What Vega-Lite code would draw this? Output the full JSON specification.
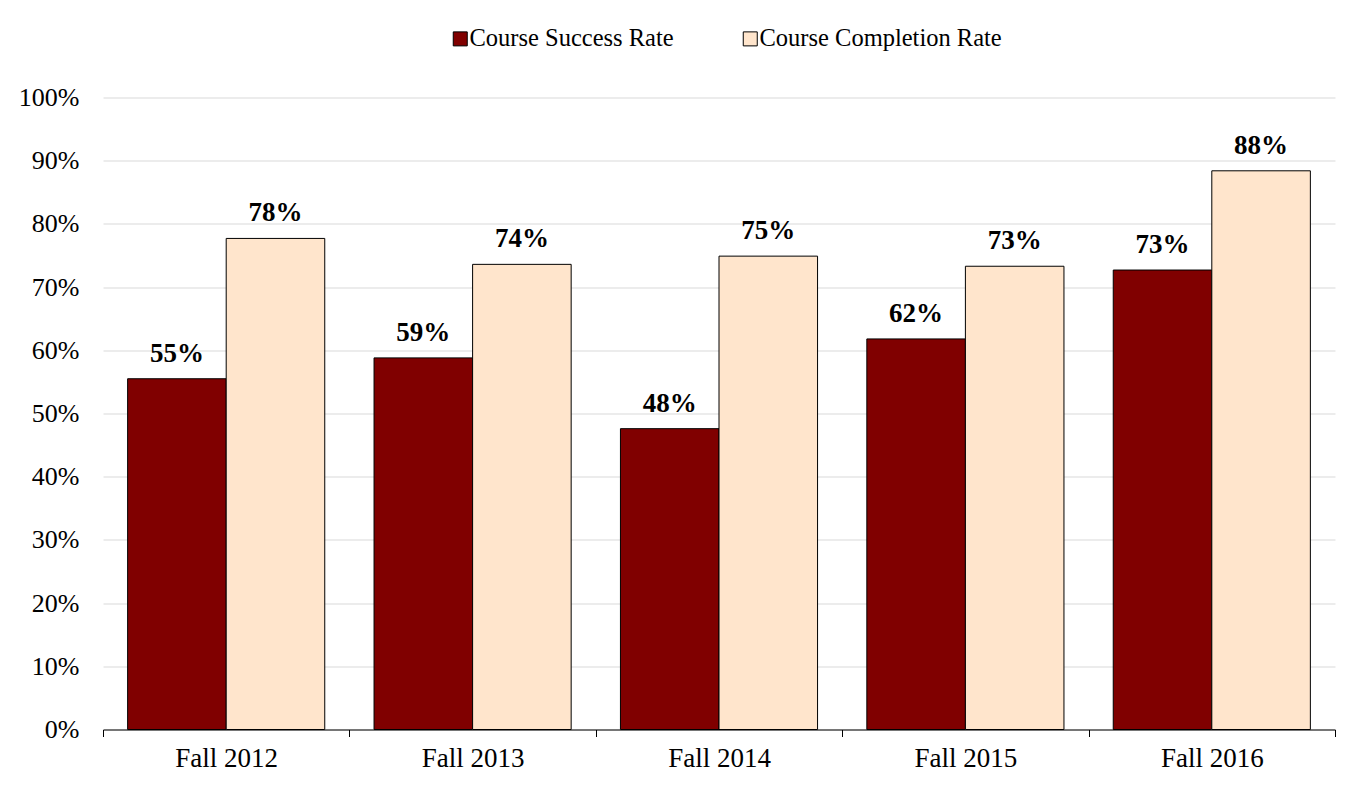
{
  "$schema": "https://vega.github.io/schema/vega-lite/v6.json",
  "width": 1232,
  "height": 632,
  "autosize": {"type": "none"},
  "padding": {"left": 103, "top": 97.5, "right": 20, "bottom": 64},
  "background": "white",
  "config": {"view": {"stroke": null}, "font": "Liberation Serif"},
  "data": {
    "values": [
      {"term": "Fall 2012", "series": "Course Success Rate", "rate": 0.555, "label": "55%"},
      {"term": "Fall 2012", "series": "Course Completion Rate", "rate": 0.777, "label": "78%"},
      {"term": "Fall 2013", "series": "Course Success Rate", "rate": 0.588, "label": "59%"},
      {"term": "Fall 2013", "series": "Course Completion Rate", "rate": 0.736, "label": "74%"},
      {"term": "Fall 2014", "series": "Course Success Rate", "rate": 0.476, "label": "48%"},
      {"term": "Fall 2014", "series": "Course Completion Rate", "rate": 0.749, "label": "75%"},
      {"term": "Fall 2015", "series": "Course Success Rate", "rate": 0.618, "label": "62%"},
      {"term": "Fall 2015", "series": "Course Completion Rate", "rate": 0.733, "label": "73%"},
      {"term": "Fall 2016", "series": "Course Success Rate", "rate": 0.727, "label": "73%"},
      {"term": "Fall 2016", "series": "Course Completion Rate", "rate": 0.884, "label": "88%"}
    ]
  },
  "encoding": {
    "x": {
      "field": "term",
      "type": "nominal",
      "sort": null,
      "scale": {"paddingInner": 0, "paddingOuter": 0},
      "axis": {
        "title": null,
        "labelAngle": 0,
        "labelFont": "Liberation Serif",
        "labelFontSize": 27,
        "labelColor": "black",
        "labelPadding": 9,
        "domainColor": "black",
        "domainWidth": 1,
        "tickColor": "black",
        "tickWidth": 1,
        "tickSize": 7,
        "tickBand": "extent",
        "grid": false
      }
    },
    "xOffset": {
      "field": "series",
      "type": "nominal",
      "sort": ["Course Success Rate", "Course Completion Rate"],
      "scale": {"paddingInner": 0, "paddingOuter": 0.25}
    },
    "y": {
      "field": "rate",
      "type": "quantitative",
      "scale": {"domain": [0, 1]},
      "axis": {
        "title": null,
        "values": [0, 0.1, 0.2, 0.3, 0.4, 0.5, 0.6, 0.7, 0.8, 0.9, 1],
        "format": ".0%",
        "domain": false,
        "ticks": false,
        "labelPadding": 24,
        "labelFont": "Liberation Serif",
        "labelFontSize": 26,
        "labelColor": "black",
        "gridColor": "#d9d9d9",
        "gridWidth": 1
      }
    }
  },
  "layer": [
    {
      "mark": {"type": "bar", "stroke": "black", "strokeWidth": 1},
      "encoding": {
        "color": {
          "field": "series",
          "type": "nominal",
          "scale": {
            "domain": ["Course Success Rate", "Course Completion Rate"],
            "range": ["#800000", "#FFE5CC"]
          },
          "legend": {
            "orient": "none",
            "legendX": 345,
            "legendY": -71,
            "direction": "horizontal",
            "title": null,
            "symbolType": "square",
            "symbolSize": 196,
            "symbolStrokeColor": "black",
            "symbolStrokeWidth": 1,
            "symbolOpacity": 1,
            "labelFont": "Liberation Serif",
            "labelFontSize": 24.5,
            "labelColor": "black",
            "labelLimit": 400,
            "labelOffset": -3,
            "columnPadding": 64,
            "padding": 0
          }
        }
      }
    },
    {
      "mark": {
        "type": "text",
        "dy": -17,
        "baseline": "alphabetic",
        "align": "center",
        "font": "Liberation Serif",
        "fontWeight": "bold",
        "fontSize": 27,
        "color": "black"
      },
      "encoding": {"text": {"field": "label"}}
    }
  ]
}
